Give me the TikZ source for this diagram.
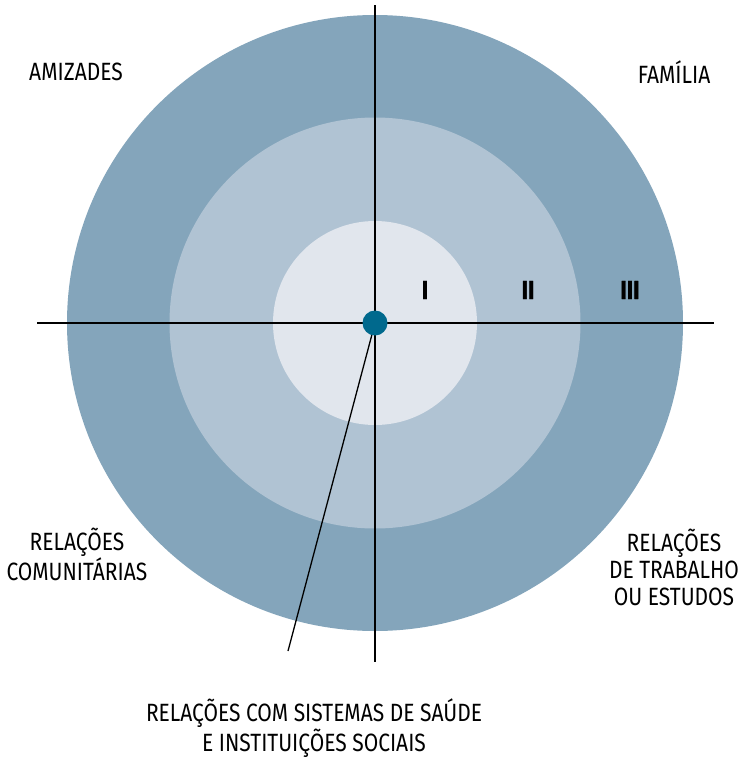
\documentclass[tikz,border=0pt]{standalone}
\usepackage{fontspec}
\setmainfont{Fira Sans}[FakeStretch=0.84]
\newfontfamily\numfont{Fira Sans}[FakeStretch=0.84,FakeBold=1.2]
\definecolor{ringout}{HTML}{84A5BB}
\definecolor{ringmid}{HTML}{B0C3D3}
\definecolor{ringin}{HTML}{E1E6ED}
\definecolor{dotc}{HTML}{00698D}
\begin{document}
\begin{tikzpicture}[x=1pt,y=-1pt,
  lbl/.style={font=\fontsize{25}{27}\selectfont, align=center, inner sep=0pt},
  num/.style={font=\numfont\bfseries\fontsize{26}{27}\selectfont, inner sep=0pt},
  axis/.style={line width=1.3pt, black}]
\fill[white] (0,0) rectangle (741,758);
\useasboundingbox (0,0) rectangle (741,758);
\coordinate (c) at (375,323);
\fill[ringout] (c) circle (308);
\fill[ringmid] (c) circle (205.5);
\fill[ringin] (c) circle (102);
\coordinate (vt) at (375,5);
\coordinate (vb) at (375,662);
\coordinate (hl) at (37,323);
\coordinate (hr) at (714,323);
\coordinate (dg) at (288,651);
\draw[axis] (vt) -- (vb);
\draw[axis] (hl) -- (hr);
\draw[axis] (c) -- (dg);
\node[circle, fill=dotc, minimum size=25pt, inner sep=0pt] (dot) at (c) {};
\node[num] (n1) at (425,290) {I};
\node[num] (n2) at (528,290) {II};
\node[num] (n3) at (630,290) {III};
\node[lbl] (ami) at (76,72) {AMIZADES};
\node[lbl] (fam) at (674,72) {FAMÍLIA};
\node[lbl] (com) at (77,554) {RELAÇÕES\\COMUNITÁRIAS};
\node[lbl] (trab) at (674,567) {RELAÇÕES\\DE TRABALHO\\OU ESTUDOS};
\node[lbl] (sau) at (314,728) {RELAÇÕES COM SISTEMAS DE SAÚDE\\E INSTITUIÇÕES SOCIAIS};
\end{tikzpicture}
\end{document}
